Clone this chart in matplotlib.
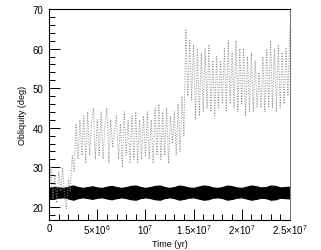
import numpy as np
import matplotlib.pyplot as plt

# obliquity with chaotic evolution, sampled every 2e5 yr (dotted curve)
chaotic = [
    24, 30, 22, 28, 21,
    29, 24, 30, 23, 19.5,
    27, 24, 33, 29, 41,
    32, 42, 33, 43, 31,
    44, 33, 41, 45, 32,
    42, 33, 44, 32, 41,
    45, 31, 42, 35, 39,
    43, 32, 41, 30, 44,
    33, 42, 31, 43, 32,
    44, 31, 42, 32, 43,
    33, 44, 32, 42, 31,
    45, 33, 46, 32, 44,
    33, 45, 31, 43, 36,
    44, 33, 46, 34, 48,
    38, 65, 48, 62, 47,
    61, 42, 60, 43, 59,
    44, 60, 45, 61, 44,
    57, 43, 58, 45, 57,
    46, 60, 44, 62, 46,
    59, 45, 62, 44, 60,
    46, 60, 43, 58, 44,
    59, 44, 57, 45, 54,
    45, 58, 44, 60, 45,
    62, 45, 60, 44, 61,
    45, 59, 46, 60, 48, 65,
]
t_chaotic = np.arange(len(chaotic)) * 2e5

# stable obliquity band envelope, sampled every 5e5 yr
band_hi = [24.9, 25.0, 24.9, 24.8, 25.1, 25.4, 25.0, 24.8, 25.0, 25.2,
           24.9, 24.8, 25.1, 25.3, 25.0, 24.8, 25.0, 25.3, 25.4, 25.0,
           24.8, 25.0, 25.3, 25.4, 25.0, 24.8, 25.0, 25.4, 25.2, 24.9,
           24.8, 25.1, 25.4, 25.3, 24.9, 24.8, 25.0, 25.4, 25.2, 24.9,
           24.8, 25.1, 25.4, 25.2, 24.9, 25.0, 25.4, 25.3, 24.9, 25.0, 25.1]
band_lo = [22.3, 22.2, 22.3, 22.4, 22.1, 21.8, 22.2, 22.4, 22.2, 22.0,
           22.3, 22.4, 22.1, 21.9, 22.2, 22.4, 22.2, 21.9, 21.8, 22.2,
           22.4, 22.2, 21.9, 21.8, 22.2, 22.4, 22.2, 21.8, 22.0, 22.3,
           22.4, 22.1, 21.8, 21.9, 22.3, 22.4, 22.2, 21.8, 22.0, 22.3,
           22.4, 22.1, 21.8, 22.0, 22.3, 22.2, 21.8, 21.9, 22.3, 22.2, 22.1]
t_band = np.arange(len(band_hi)) * 5e5

xticks = [0, 5e6, 1e7, 1.5e7, 2e7, 2.5e7]
xlabels = ['0', r'$5{\times}10^6$', r'$10^7$', r'$1.5{\times}10^7$',
           r'$2{\times}10^7$', r'$2.5{\times}10^7$']
yticks = [20, 30, 40, 50, 60, 70]

plt.rcParams['font.family'] = 'Liberation Sans'
plt.rcParams['mathtext.fontset'] = 'custom'
plt.rcParams['mathtext.rm'] = 'Liberation Sans'

fig = plt.figure(figsize=(3.21, 2.51), dpi=100)
ax = fig.add_axes([0.153, 0.12, 0.75, 0.84])

ax.fill_between(t_band, band_lo, band_hi, color='black', lw=0.8, edgecolor='black')
ax.plot(t_chaotic, chaotic, ls=':', color='#8a8a8a', lw=0.7)

ax.set_xlim(0, 2.5e7)
ax.set_ylim(16.7, 70)
ax.set_xticks(xticks)
ax.set_xticklabels(xlabels)
ax.set_xticks(np.arange(0, 2.5e7 + 1, 1e6), minor=True)
ax.set_yticks(yticks)
ax.set_yticks(np.arange(18, 71, 2), minor=True)
ax.tick_params(which='both', direction='in', labelsize=7, top=False, right=False, width=0.7)
ax.tick_params(which='major', length=8)
ax.tick_params(axis='x', which='major', pad=2)
ax.tick_params(axis='y', which='major', pad=4)
ax.tick_params(which='minor', length=4)
for s in ax.spines.values():
    s.set_linewidth(0.8)
ax.spines['right'].set_color('#777777')

ax.set_xlabel('Time (yr)', fontsize=6.5, labelpad=2)
ax.set_ylabel('Obliquity (deg)', fontsize=6.5, labelpad=4)

fig.savefig('out.png', dpi=100)
